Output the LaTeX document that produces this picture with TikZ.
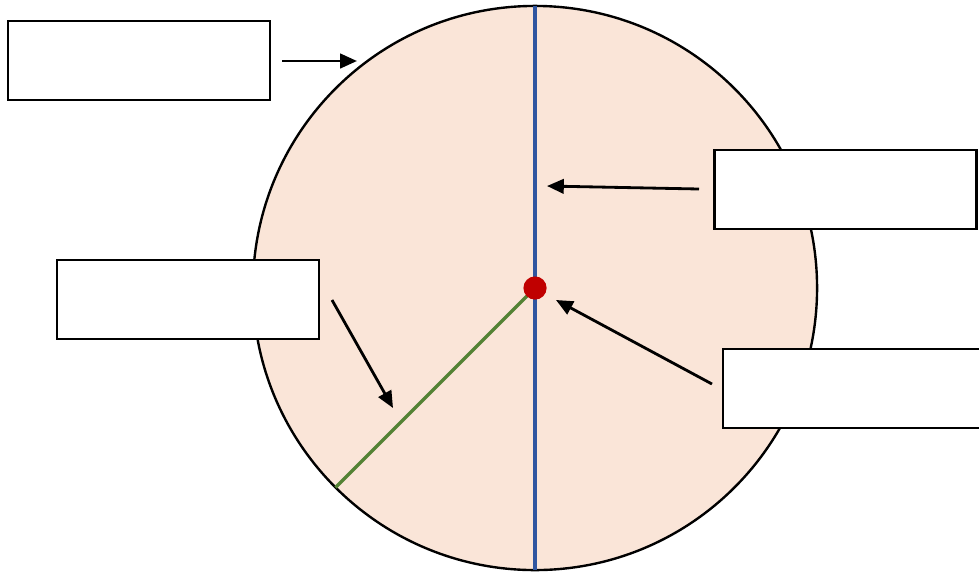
\documentclass[tikz,border=0pt]{standalone}
\usetikzlibrary{arrows.meta}
\definecolor{peach}{RGB}{250,229,216}
\definecolor{diablue}{RGB}{47,85,160}
\definecolor{radgreen}{RGB}{84,130,53}
\definecolor{dotred}{RGB}{192,0,0}
\begin{document}
\begin{tikzpicture}[x=0.025cm,y=-0.025cm,
  labelbox/.style={draw,line width=1.7pt,fill=white,minimum width=6.55cm,minimum height=1.975cm,inner sep=0pt},
  pointer/.style={-{Triangle[length=0.42cm,width=0.36cm]},line width=2pt}]
\useasboundingbox (0,0) rectangle (979,574);
%\draw[help lines] (0,0) grid (979,574);
\node[circle,draw,line width=1.7pt,fill=peach,minimum size=14.1cm,inner sep=0pt,outer sep=0pt] (disc) at (535,288) {};
\draw[diablue,line width=2.3pt] (disc.north) -- (disc.south);
\draw[radgreen,line width=2.3pt] (disc.center) -- (disc.225);
\node[circle,fill=dotred,minimum size=0.58cm,inner sep=0pt] (centre) at (535,288) {};
\node[labelbox] (name) at (139,60.5) {};
\node[labelbox] (diam) at (845.5,189.5) {};
\node[labelbox] (rad) at (188,299.5) {};
\node[labelbox] (cen) at (854,388.5) {};
\coordinate (p1a) at (282,61);  \coordinate (p1b) at (357,61);
\coordinate (p2a) at (699,189); \coordinate (p2b) at (547,186);
\coordinate (p3a) at (332,300); \coordinate (p3b) at (393,408);
\coordinate (p4a) at (712,384); \coordinate (p4b) at (556,300);
\draw[pointer] (p1a) -- (p1b);
\draw[pointer] (p2a) -- (p2b);
\draw[pointer] (p3a) -- (p3b);
\draw[pointer] (p4a) -- (p4b);
\end{tikzpicture}
\end{document}
